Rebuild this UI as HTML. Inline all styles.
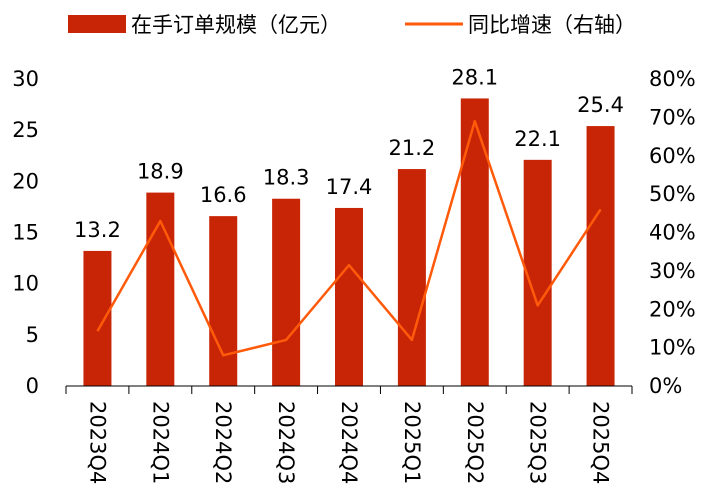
<!DOCTYPE html>
<html><head><meta charset="utf-8"><style>
body{margin:0;background:#fff;}
svg{display:block;font-family:"DejaVu Sans","Liberation Sans","Noto Sans CJK SC",sans-serif;}
</style></head><body>
<svg id="chart" width="712" height="494">
<g>
<rect x="68" y="15" width="58" height="18" fill="#C82506"/>
<text x="131" y="32" font-size="21" fill="#000" font-family="'Noto Sans CJK SC',sans-serif">在手订单规模（亿元）</text>
<line x1="405" y1="24" x2="463" y2="24" stroke="#FF5A0A" stroke-width="3"/>
<text x="468" y="32" font-size="21" fill="#000" font-family="'Noto Sans CJK SC',sans-serif">同比增速（右轴）</text>
</g>
<g id="plot"></g>
</svg>
<script>
const categories=["2023Q4","2024Q1","2024Q2","2024Q3","2024Q4","2025Q1","2025Q2","2025Q3","2025Q4"];
const backlog=[13.2,18.9,16.6,18.3,17.4,21.2,28.1,22.1,25.4];
const growth=[14.3,43,8,12,31.5,12,69,21,46];
const leftTicks=[0,5,10,15,20,25,30];
const rightTicks=[0,10,20,30,40,50,60,70,80];
const NS="http://www.w3.org/2000/svg";
const g=document.getElementById('plot');
const x0=66,x1=632,yB=386,yT=79;
const bw=(x1-x0)/categories.length;
const xc=i=>x0+bw*(i+0.5);
const yL=v=>yB-(yB-yT)*v/30;
const yR=v=>yB-(yB-yT)*v/80;
function mk(t,a){const e=document.createElementNS(NS,t);for(const k in a)e.setAttribute(k,a[k]);g.appendChild(e);return e;}
leftTicks.forEach(v=>{const e=mk('text',{x:39,y:yL(v)+7,'font-size':21,'text-anchor':'end'});e.textContent=v;

});
rightTicks.forEach(v=>{const e=mk('text',{x:649,y:yR(v)+7,'font-size':21});e.textContent=v+'%';

});
backlog.forEach((v,i)=>{
const r=mk('rect',{x:xc(i)-14,y:yL(v),width:28,height:yB-yL(v),fill:'#C82506'});


const t=mk('text',{x:xc(i),y:yL(v)-14,'font-size':21,'text-anchor':'middle'});t.textContent=v.toFixed(1);


const l=mk('text',{x:0,y:0,'font-size':21,transform:`translate(${xc(i)-7},401) rotate(90)`});l.textContent=categories[i];


});
const ax=mk('line',{x1:x0,y1:yB,x2:x1,y2:yB,stroke:'#000','stroke-width':1});


for(let i=0;i<=categories.length;i++){const tk=mk('line',{x1:x0+bw*i,y1:yB,x2:x0+bw*i,y2:yB+8,stroke:'#000'});

}
const pl=mk('polyline',{points:growth.map((v,i)=>xc(i)+','+yR(v)).join(' '),fill:'none',stroke:'#FF5A0A','stroke-width':2.5,'stroke-linejoin':'round'});


</script>
</body></html>
